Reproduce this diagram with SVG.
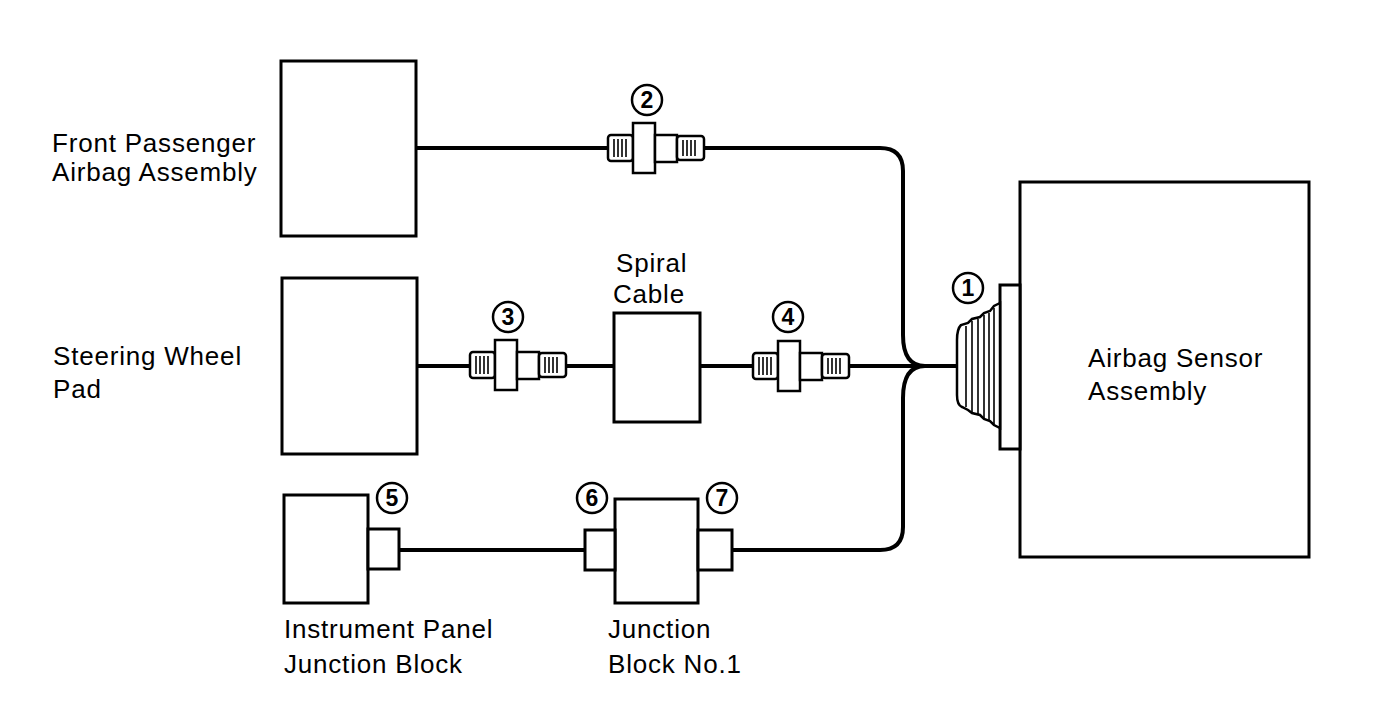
<svg xmlns="http://www.w3.org/2000/svg" xmlns:xlink="http://www.w3.org/1999/xlink" width="1376" height="728" viewBox="0 0 1376 728">
<style>
.box{fill:#fff;stroke:#000;stroke-width:3}
.wire{fill:none;stroke:#000;stroke-width:4}
.thin{fill:none;stroke:#000;stroke-width:1.6}
.lbl{font-family:"Liberation Sans",Arial,sans-serif;font-size:26px;letter-spacing:0.8px;fill:#000}
.num{font-family:"Liberation Sans",Arial,sans-serif;font-size:23px;font-weight:bold;fill:#000;text-anchor:middle}
.ring{fill:#fff;stroke:#000;stroke-width:2.5}
</style>
<defs>
<g id="plug">
<rect x="0" y="-13" width="25" height="26" rx="3" fill="#fff" stroke="#000" stroke-width="2.5"/>
<path d="M6,-9V9M10,-9V9M14,-9V9M18,-9V9" class="thin"/>
<rect x="25" y="-25" width="22" height="50" fill="#fff" stroke="#000" stroke-width="2.5"/>
<rect x="47" y="-13" width="22" height="27" fill="#fff" stroke="#000" stroke-width="2.5"/>
<rect x="69" y="-12" width="27" height="24" rx="3" fill="#fff" stroke="#000" stroke-width="2.5"/>
<path d="M75,-8V8M79,-8V8M83,-8V8M87,-8V8" class="thin"/>
</g>
</defs>
<rect width="1376" height="728" fill="#fff"/>

<g id="connectors">
<path class="wire" d="M416,148 H880 Q903,148 903,171 V335 Q903,366 925,366"/>
<path class="wire" d="M417,366 H960"/>
<path class="wire" d="M399,550 H585"/>
<path class="wire" d="M732,550 H880 Q903,550 903,527 V398 Q903,366 925,366"/>
</g>

<g id="front-passenger-airbag">
<rect class="box" x="281" y="61" width="135" height="175"/>
<text class="lbl" x="52" y="152">Front Passenger</text>
<text class="lbl" x="52" y="181">Airbag Assembly</text>
</g>

<g id="steering-wheel-pad">
<rect class="box" x="282" y="278" width="135" height="176"/>
<text class="lbl" x="53" y="365">Steering Wheel</text>
<text class="lbl" x="53" y="398">Pad</text>
</g>

<g id="spiral-cable">
<rect class="box" x="614" y="313" width="86" height="109"/>
<text class="lbl" x="616" y="272">Spiral</text>
<text class="lbl" x="613" y="303">Cable</text>
</g>

<g id="instrument-panel-jb">
<rect class="box" x="284" y="495" width="84" height="108"/>
<rect class="box" x="368" y="529" width="31" height="40"/>
<text class="lbl" x="284" y="638">Instrument Panel</text>
<text class="lbl" x="284" y="673">Junction Block</text>
</g>

<g id="junction-block-1">
<rect class="box" x="615" y="499" width="83" height="104"/>
<rect class="box" x="585" y="530" width="30" height="40"/>
<rect class="box" x="698" y="530" width="34" height="40"/>
<text class="lbl" x="608" y="638">Junction</text>
<text class="lbl" x="608" y="673">Block No.1</text>
</g>

<g id="airbag-sensor">
<rect class="box" x="1020" y="182" width="289" height="375"/>
<rect class="box" x="1000" y="285" width="20" height="164"/>
<path fill="#fff" stroke="#000" stroke-width="2.5" d="M1000,303 L994,306 L990,311 L984,313 L980,317 L972,319 L968,323 L961,325 Q957,329 957,340 L957,395 Q957,405 962,407 L968,410 L972,413 L980,415 L984,419 L990,421 L994,425 L1000,428 Z"/>
<path class="thin" d="M966,326V407M972,321V412M978,319V414M984,315V418M989,313V420M994,308V424"/>
<text class="lbl" x="1088" y="367">Airbag Sensor</text>
<text class="lbl" x="1088" y="400">Assembly</text>
</g>

<g id="plug-2"><use xlink:href="#plug" x="608" y="148"/></g>
<g id="plug-3"><use xlink:href="#plug" x="470" y="365"/></g>
<g id="plug-4"><use xlink:href="#plug" x="753" y="366"/></g>

<g id="labels">
<circle class="ring" cx="968" cy="288" r="15"/><text class="num" x="968" y="296">1</text>
<circle class="ring" cx="647" cy="100" r="15"/><text class="num" x="647" y="108">2</text>
<circle class="ring" cx="508" cy="317" r="15"/><text class="num" x="508" y="325">3</text>
<circle class="ring" cx="788" cy="317" r="15"/><text class="num" x="788" y="325">4</text>
<circle class="ring" cx="392" cy="498" r="15"/><text class="num" x="392" y="506">5</text>
<circle class="ring" cx="592" cy="498" r="15"/><text class="num" x="592" y="506">6</text>
<circle class="ring" cx="722" cy="498" r="15"/><text class="num" x="722" y="506">7</text>
</g>
</svg>
